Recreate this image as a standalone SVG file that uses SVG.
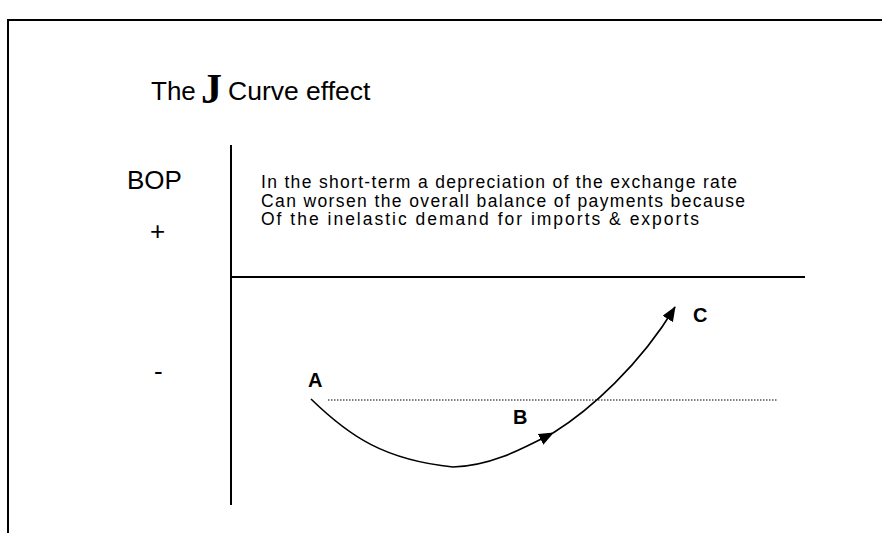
<svg xmlns="http://www.w3.org/2000/svg" width="882" height="533" viewBox="0 0 882 533">
<style>
  .t { font-family: "Liberation Sans", Arial, sans-serif; fill: #000; }
  .big { font-size: 26px; }
  .body { font-size: 17.5px; }
  .lbl { font-size: 20px; font-weight: bold; }
  .axis { stroke: #000; stroke-width: 2; fill: none; }
  .curve { stroke: #000; stroke-width: 1.6; fill: none; marker-end: url(#arrow); }
  .dots { stroke: #000; stroke-width: 1; stroke-dasharray: 1.5 1.5; fill: none; }
</style>
<defs>
  <marker id="arrow" markerUnits="userSpaceOnUse" markerWidth="15" markerHeight="12" refX="14" refY="6" orient="auto">
    <path d="M0,0 L15,6 L0,12 z" fill="#000"/>
  </marker>
</defs>
<rect width="882" height="533" fill="#fff"/>
<g id="frame">
  <path class="axis" d="M8,534 L8,20 L883,20"/>
</g>
<g id="title">
  <text class="t big" x="151" y="100">The</text>
  <text x="201" y="103" style="font-family:'Liberation Serif','Times New Roman',serif;font-size:42px;font-weight:bold;fill:#000">J</text>
  <text class="t big" x="228" y="100" style="font-size:26.5px">Curve effect</text>
</g>
<g id="labels">
  <text class="t big" x="127" y="189">BOP</text>
  <text class="t big" x="150" y="240">+</text>
  <text class="t big" x="154" y="380">-</text>
</g>
<g id="note">
  <text class="t body" x="261" y="188" textLength="476" lengthAdjust="spacing">In the short-term a depreciation of the exchange rate</text>
  <text class="t body" x="261" y="206.5" textLength="484" lengthAdjust="spacing">Can worsen the overall balance of payments because</text>
  <text class="t body" x="261" y="225" textLength="438" lengthAdjust="spacing">Of the inelastic demand for imports &amp; exports</text>
</g>
<g id="axes">
  <line class="axis" x1="231" y1="145" x2="231" y2="505"/>
  <line class="axis" x1="230" y1="277" x2="805" y2="277"/>
</g>
<g id="baseline">
  <line class="dots" x1="328" y1="400" x2="778" y2="400"/>
</g>
<g id="pointA"><text class="t lbl" x="308" y="387">A</text></g>
<g id="pointB"><text class="t lbl" x="513" y="424">B</text></g>
<g id="pointC"><text class="t lbl" x="693" y="322">C</text></g>
<g id="connectors">
  <path class="curve" d="M311,399 C350,437 385,460 453,467 C490,466 520,450 553,433"/>
  <path class="curve" d="M553,433 C590,410 640,365 675,307"/>
</g>
</svg>
